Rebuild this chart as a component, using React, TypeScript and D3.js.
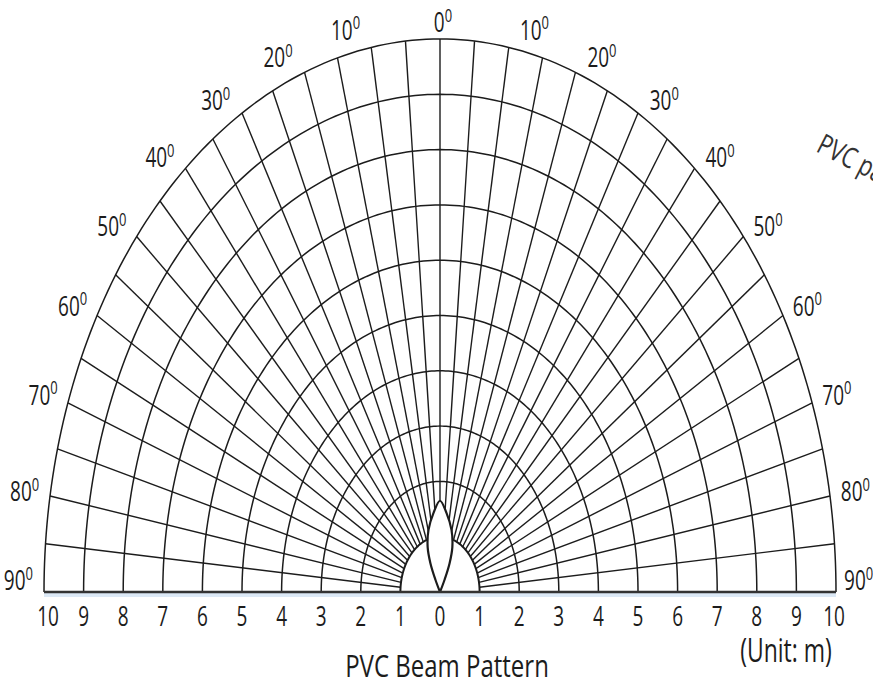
import React from "react";
import * as d3 from "d3";

const W = 873;
const H = 688;

// Grid definition
const ringRanges = [1, 2, 3, 4, 5, 6, 7, 8, 9, 10];
const spokeAngles = [-85, -80, -75, -70, -65, -60, -55, -50, -45, -40, -35, -30, -25, -20, -15, -10, -5, 0,
  5, 10, 15, 20, 25, 30, 35, 40, 45, 50, 55, 60, 65, 70, 75, 80, 85];
const degreeLabels = [0, 10, 20, 30, 40, 50, 60, 70, 80, 90];
const distanceTicks = [-10, -9, -8, -7, -6, -5, -4, -3, -2, -1, 0, 1, 2, 3, 4, 5, 6, 7, 8, 9, 10];

// Beam pattern (one half, mirrored): angle in degrees, range in m
const lobeAngles = [0, 6.5, 14.5, 21, 25, 27.5, 30];
const lobeRanges = [1.65, 1.44, 1.16, 0.87, 0.57, 0.25, 0];

const titleText = "PVC Beam Pattern";
const unitText = "(Unit: m)";
const sideText = "PVC pattern";

const FONT = "'Open Sans', 'Noto Sans', sans-serif";
const INK = "#1c1c1c";

export default function App() {
  const x = d3.scaleLinear().domain([-10, 10]).range([44, 836]);
  const y = d3.scaleLinear().domain([0, 10]).range([592, 39]);
  const rad = (d: number) => (d * Math.PI) / 180;
  const pt = (r: number, deg: number): [number, number] => [
    x(r * Math.sin(rad(deg))),
    y(r * Math.cos(rad(deg))),
  ];

  const line = d3.line<[number, number]>().x((d) => d[0]).y((d) => d[1]);
  const arcPts = (r: number) => d3.range(-90, 90.01, 1).map((a) => pt(r, a));

  const half = lobeAngles.map((a, i) => ({ a, r: lobeRanges[i] }));
  const lobe = [
    ...half.slice().reverse(),
    ...half.slice(1).map((p) => ({ a: -p.a, r: p.r })),
  ].map((p) => pt(p.r, p.a));
  const lobePath = d3.line<[number, number]>().x((d) => d[0]).y((d) => d[1]).curve(d3.curveCatmullRom)(lobe) || "";

  const innerR = ringRanges[0];
  const outerR = ringRanges[ringRanges.length - 1];

  const scaledText = (
    key: string,
    tx: number,
    ty: number,
    sy: number,
    size: number,
    content: React.ReactNode,
    anchor: string = "middle"
  ) => (
    <g key={key} transform={`translate(${tx},${ty}) scale(1,${sy})`}>
      <text textAnchor={anchor as any} fontFamily={FONT} fontSize={size} fill={INK}>
        {content}
      </text>
    </g>
  );

  const degLabelNodes: React.ReactNode[] = [];
  degreeLabels.forEach((d) => {
    const sides = d === 0 ? [1] : [-1, 1];
    sides.forEach((s) => {
      const th = Math.min(d + 3.3 * Math.cos(rad(d)) ** 2, 88.8);
      const rl = outerR + 0.3 + 0.35 * Math.sqrt(Math.sin(rad(d)));
      const [px, py] = pt(rl, s * (d === 0 ? 0 : th));
      degLabelNodes.push(
        scaledText(`deg${d}_${s}`, px + (d === 0 ? 3 : 0) + (d === 90 && s > 0 ? -3 : 0), py + 10, 1.45, 19,
          <>
            {String(d)}
            <tspan fontSize={13} dy={-7}>0</tspan>
          </>
        )
      );
    });
  });

  return (
    <svg
      width={W}
      height={H}
      viewBox={`0 0 ${W} ${H}`}
      style={{ position: "absolute", left: 0, top: 0, background: "#fff" }}
    >
      <rect x={0} y={0} width={W} height={H} fill="#fff" />
      {/* spokes */}
      <g stroke={INK} strokeWidth={1.4}>
        {spokeAngles.map((a) => {
          const [x1, y1] = pt(innerR, a);
          const [x2, y2] = pt(outerR, a);
          return <line key={a} x1={x1} y1={y1} x2={x2} y2={y2} />;
        })}
      </g>
      {/* rings */}
      <g fill="none" stroke={INK} strokeWidth={1.5}>
        {ringRanges.slice(1).map((r) => (
          <path key={r} d={line(arcPts(r)) || ""} />
        ))}
      </g>
      {/* inner 1 m half disc */}
      <path d={(line(arcPts(innerR)) || "") + "Z"} fill="#fff" stroke={INK} strokeWidth={2} />
      {/* beam lobe */}
      <path d={lobePath} fill="#fff" stroke={INK} strokeWidth={2.2} />
      {/* baseline */}
      <line x1={x(-10)} x2={x(10)} y1={y(0) + 3} y2={y(0) + 3} stroke="#dce9f6" strokeWidth={4} />
      <line x1={x(-10)} x2={x(10)} y1={y(0)} y2={y(0)} stroke="#333" strokeWidth={2.6} />

      {/* distance tick labels */}
      {distanceTicks.map((v) =>
        scaledText(`t${v}`, x(v) + (v === -10 ? 4 : v === 10 ? -2 : 0), 626, 1.45, 19, String(Math.abs(v)))
      )}

      {degLabelNodes}

      {scaledText("title", 447, 677, 1.3, 24, titleText)}
      {scaledText("unit", 786, 662, 1.45, 23, unitText)}
      <g transform={`translate(815,151) rotate(27) scale(1,1.3)`}>
        <text fontFamily={FONT} fontSize={22} fill="#333">{sideText}</text>
      </g>
    </svg>
  );
}
